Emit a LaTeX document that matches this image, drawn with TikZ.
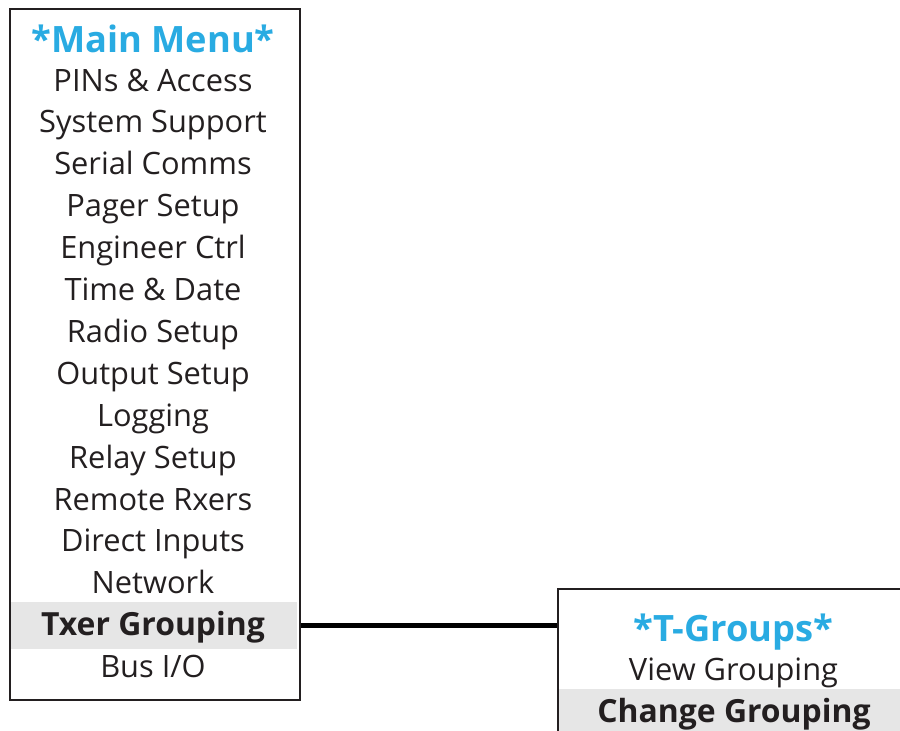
\documentclass[tikz,border=0pt]{standalone}
\usepackage{fontspec}
\setmainfont{Open Sans}
\definecolor{menublue}{HTML}{29ABE2}
\definecolor{bandgrey}{HTML}{E6E6E6}
\definecolor{ink}{HTML}{231F20}
\begin{document}
\begin{tikzpicture}[x=1pt,y=-1pt,
  itemtext/.style={anchor=base,inner sep=0pt,text=ink,font=\fontsize{30.8}{36}\selectfont},
  titletext/.style={anchor=base,inner sep=0pt,text=menublue,font=\fontsize{36.3}{44}\selectfont\bfseries},
  seltext/.style={itemtext,font=\fontsize{31.9}{36}\selectfont\bfseries},
  menubox/.style={draw=ink,line width=2.4pt,anchor=north west,inner sep=0pt},
  band/.style={fill=bandgrey,inner sep=0pt,anchor=north west},
  link/.style={draw=black,line width=4.5pt}]
\useasboundingbox (0,0) rectangle (900,731);
\clip (0,0) rectangle (900,731);
% bands
\node[band,minimum width=287pt,minimum height=47pt] (txerband) at (9.5,602) {};
\node[band,minimum width=345pt,minimum height=60pt] (changeband) at (558,689) {};
% boxes
\node[menubox,minimum width=290pt,minimum height=691pt] (mainbox) at (8.5,8) {};
\node[menubox,minimum width=380pt,minimum height=220pt] (tbox) at (557,588) {};
% connector
\draw[link] (mainbox.east |- txerband.center) -- (tbox.west |- txerband.center);
% main menu text
\node[titletext] (mtitle) at (153,52) {*Main Menu*};
\foreach \t [count=\i from 0] in {PINs \& Access,System Support,Serial Comms,Pager Setup,Engineer Ctrl,Time \& Date,Radio Setup,Output Setup,Logging,Relay Setup,Remote Rxers,Direct Inputs,Network}
  \node[itemtext] (m\i) at (153,{91+41.9*\i}) {\t};
\node[seltext] (mtxer) at (153,{91+41.9*13}) {Txer Grouping};
\node[itemtext] (mbus) at (153,{91+41.9*14}) {Bus I/O};
% T-groups text
\node[titletext] (ttitle) at (733.5,641.5) {*T-Groups*};
\node[itemtext] (tview) at (733.5,680) {View Grouping};
\node[seltext] (tchange) at (734,722) {Change Grouping};
\end{tikzpicture}
\end{document}
